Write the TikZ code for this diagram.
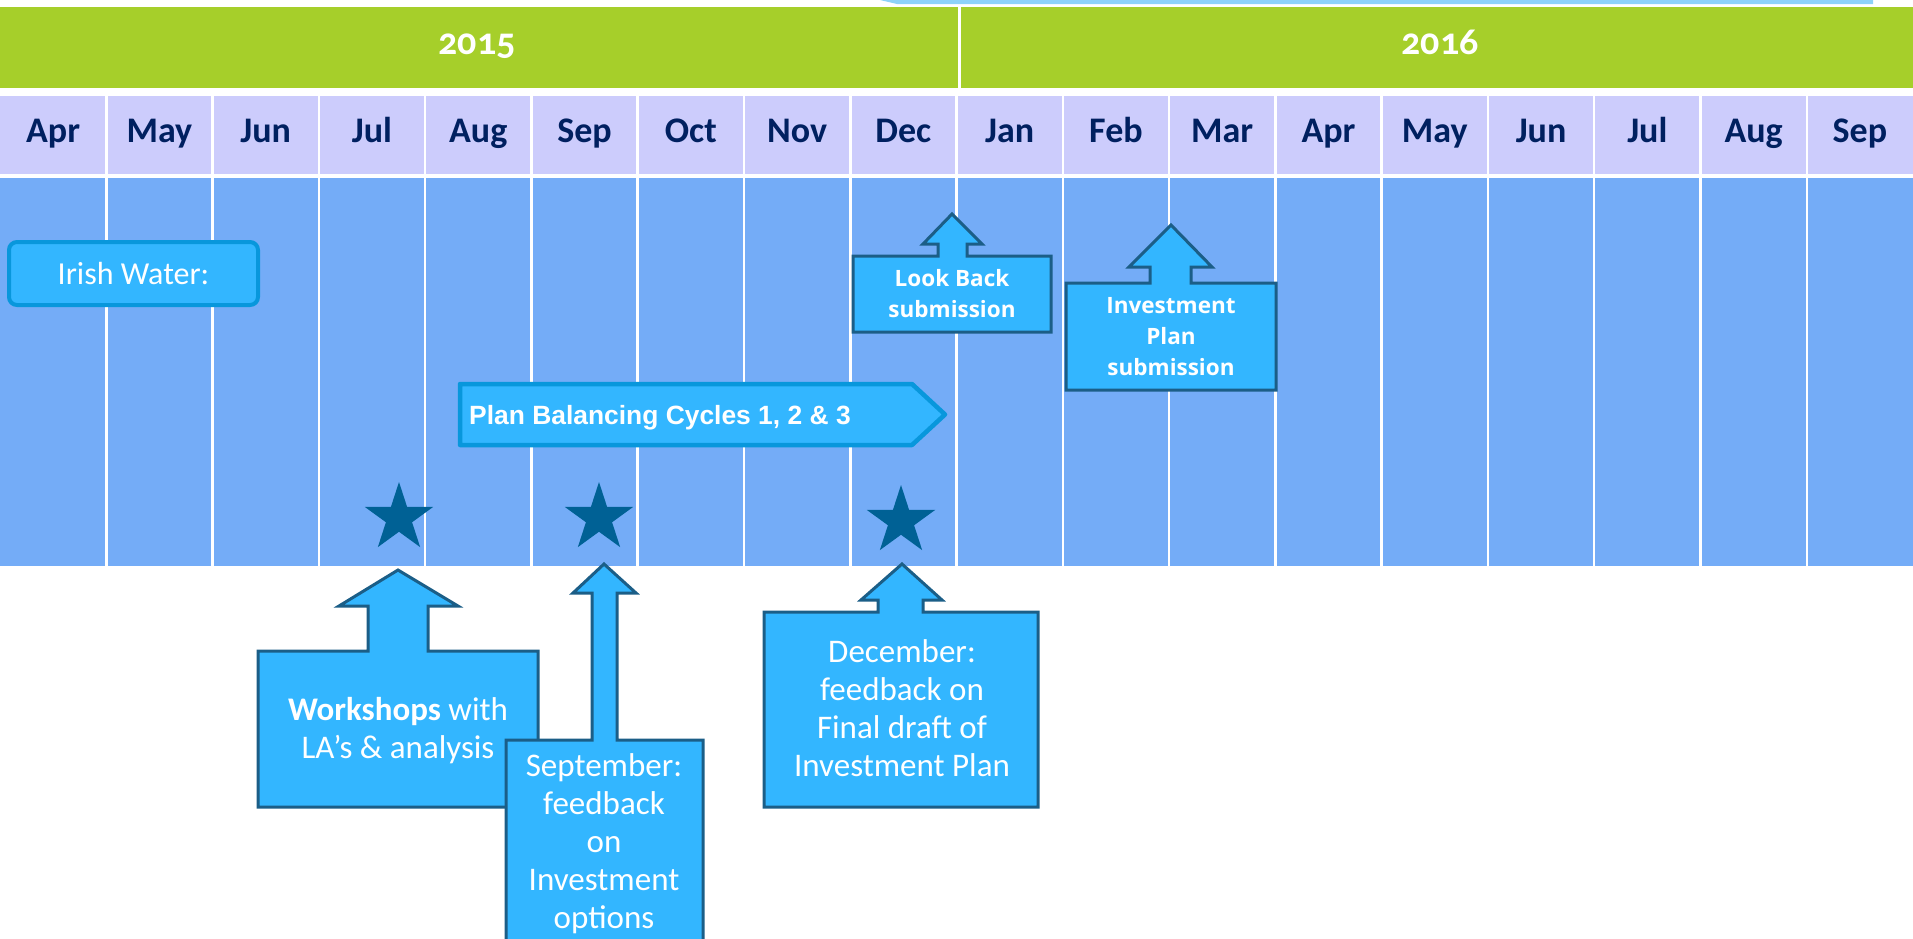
\documentclass[tikz,border=0pt]{standalone}
\usepackage{fontspec}
\setmainfont{Carlito}
\newfontfamily\yearfont[Numbers=OldStyle]{Carlito}
\newfontfamily\arialfont{Liberation Sans}
\newfontfamily\segoefont{Open Sans}
\usetikzlibrary{shapes.geometric}

\definecolor{yeargreen}{HTML}{A6CF2A}
\definecolor{lavender}{HTML}{CCCCFC}
\definecolor{colblue}{HTML}{74ACF7}
\definecolor{navy}{HTML}{002060}
\definecolor{boxblue}{HTML}{33B6FF}
\definecolor{boxedge}{HTML}{1B5E87}
\definecolor{irisedge}{HTML}{0897DC}
\definecolor{starblue}{HTML}{006195}
\definecolor{topblue}{HTML}{8ED2F8}

\begin{document}
\begin{tikzpicture}[x=1pt,y=-1pt,
    month/.style={font=\bfseries\fontsize{36}{40}\selectfont, text=navy, anchor=base, inner sep=0},
    year/.style={font=\yearfont\bfseries\fontsize{38}{42}\selectfont, text=white, anchor=base, inner sep=0},
    callout/.style={fill=boxblue, draw=boxedge, line width=3pt},
    calltext/.style={text=white, align=center, inner sep=0, font=\fontsize{33}{38}\selectfont},
    subtext/.style={text=white, align=center, inner sep=0, font=\segoefont\bfseries\fontsize{22.5}{31}\selectfont},
    milestone/.style={shape=star, star points=5, star point ratio=2.618, minimum size=72pt, inner sep=0, fill=starblue}]
        \useasboundingbox (0,0) rectangle (1913,938);
        % background bands
        \fill[topblue] (880,0) -- (1873,0) -- (1873,4) -- (897,4) -- cycle;
        \fill[yeargreen] (0,7) rectangle (1913,88);
        \fill[lavender] (0,96) rectangle (1913,174);
        \fill[colblue] (0,178) rectangle (1913,566);
        \foreach \k in {1,...,17}
            \draw[white, line width=2.5pt] ({106.28*\k},88) -- ({106.28*\k},566);
        \draw[white, line width=3pt] (959,7) -- (959,88);
        % years
        \node[year] (y2015) at (477,54) {2015};
        \node[year] (y2016) at (1440,54) {2016};
        % months
        \node[month] (apr15) at (53.14,142) {Apr};
        \node[month] (may15) at (159.42,142) {May};
        \node[month] (jun15) at (265.70,142) {Jun};
        \node[month] (jul15) at (371.98,142) {Jul};
        \node[month] (aug15) at (478.26,142) {Aug};
        \node[month] (sep15) at (584.54,142) {Sep};
        \node[month] (oct15) at (690.82,142) {Oct};
        \node[month] (nov15) at (797.10,142) {Nov};
        \node[month] (dec15) at (903.38,142) {Dec};
        \node[month] (jan16) at (1009.66,142) {Jan};
        \node[month] (feb16) at (1115.94,142) {Feb};
        \node[month] (mar16) at (1222.22,142) {Mar};
        \node[month] (apr16) at (1328.50,142) {Apr};
        \node[month] (may16) at (1434.78,142) {May};
        \node[month] (jun16) at (1541.06,142) {Jun};
        \node[month] (jul16) at (1647.34,142) {Jul};
        \node[month] (aug16) at (1753.62,142) {Aug};
        \node[month] (sep16) at (1859.90,142) {Sep};
        % Irish Water label
        \node[fill=boxblue, draw=irisedge, line width=4pt, rounded corners=8pt, minimum width=249pt, minimum height=63pt,
              text=white, font=\fontsize{32}{36}\selectfont, inner sep=0] (irishwater) at (133.5,273.5) {Irish Water:};
        % plan balancing bar
        \draw[fill=boxblue, draw=irisedge, line width=4.5pt, line join=round]
            (460,384) -- (912,384) -- (945,414.5) -- (912,445) -- (460,445) -- cycle;
        \node[anchor=base west, inner sep=0, text=white, font=\arialfont\bfseries\fontsize{26.4}{30}\selectfont]
            (cycles) at (469,424) {Plan Balancing Cycles 1, 2 \& 3};
        % milestones
        \node[milestone] (starjul) at (399,518) {};
        \node[milestone] (starsep) at (599,518) {};
        \node[milestone] (stardec) at (901,521) {};
        % submissions
        \draw[callout] (853,256) -- (938,256) -- (938,244) -- (923,244) -- (952,214) -- (982,244) -- (967,244)
            -- (967,256) -- (1051,256) -- (1051,332) -- (853,332) -- cycle;
        \node[subtext] (lookback) at (952,294) {Look Back\\submission};
        \draw[callout] (1066,283) -- (1150,283) -- (1150,267) -- (1129,267) -- (1171,225) -- (1212,267) -- (1191,267)
            -- (1191,283) -- (1276,283) -- (1276,390) -- (1066,390) -- cycle;
        \node[subtext] (invplan) at (1171,336.5) {Investment\\Plan\\submission};
        % feedback callouts
        \draw[callout] (258,651) -- (368,651) -- (368,606) -- (339,606) -- (398,570) -- (458,606) -- (428,606)
            -- (428,651) -- (538,651) -- (538,807) -- (258,807) -- cycle;
        \node[calltext] (workshops) at (398,731) {{\bfseries Workshops} with\\LA’s \& analysis};
        \draw[callout] (506,740) -- (592,740) -- (592,593) -- (573,593) -- (604,564) -- (636,593) -- (617,593)
            -- (617,740) -- (703,740) -- (703,950) -- (506,950) -- cycle;
        \node[calltext] (septfb) at (604,844) {September:\\feedback\\on\\Investment\\options};
        \draw[callout] (764,612) -- (878,612) -- (878,600) -- (861,600) -- (902,564) -- (942,600) -- (923,600)
            -- (923,612) -- (1038,612) -- (1038,807) -- (764,807) -- cycle;
        \node[calltext] (decfb) at (902,708.5) {December:\\feedback on\\Final draft of\\Investment Plan};
    \end{tikzpicture}
\end{document}
